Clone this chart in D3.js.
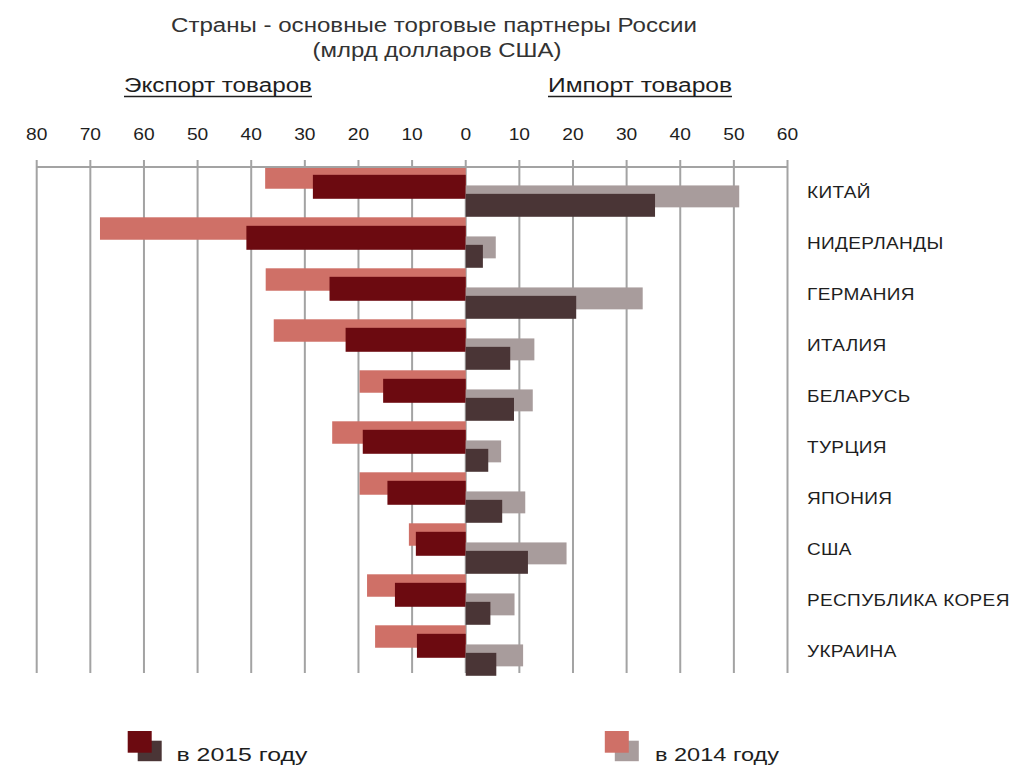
<!DOCTYPE html>
<html><head><meta charset="utf-8">
<script src="https://cdn.jsdelivr.net/npm/d3@7"></script>
<style>
html,body{margin:0;padding:0;background:#fff;}
text{font-family:"Liberation Sans",Arial,sans-serif;fill:#1e1e1e;}
</style></head>
<body>
<svg id="chart" width="1024" height="768"></svg>
<script>
// ---- data ----
const countries = ["КИТАЙ","НИДЕРЛАНДЫ","ГЕРМАНИЯ","ИТАЛИЯ","БЕЛАРУСЬ","ТУРЦИЯ","ЯПОНИЯ","США","РЕСПУБЛИКА КОРЕЯ","УКРАИНА"];
const export2014 = [37.4, 68.2, 37.3, 35.8, 19.8, 24.9, 19.8, 10.6, 18.4, 16.9];
const export2015 = [28.5, 40.9, 25.4, 22.4, 15.4, 19.2, 14.6, 9.3, 13.2, 9.1];
const import2014 = [51.0, 5.6, 33.0, 12.8, 12.5, 6.6, 11.1, 18.8, 9.1, 10.7];
const import2015 = [35.3, 3.2, 20.6, 8.3, 9.0, 4.2, 6.8, 11.6, 4.6, 5.7];
const tickValues = [-80,-70,-60,-50,-40,-30,-20,-10,0,10,20,30,40,50,60];
const titleLines = ["Страны - основные торговые партнеры России","(млрд долларов США)"];
const sideTitles = ["Экспорт товаров","Импорт товаров"];
const legendLabels = ["в  2015 году","в 2014 году"];

const colors = {exp14:"#cf7067", exp15:"#6c0a10", imp14:"#a89c9c", imp15:"#4a3536"};

const svg = d3.select("#chart");
const x = d3.scaleLinear().domain([-80,60]).range([36.7,787.5]);
const y = d3.scaleBand().domain(countries).range([166.3,676.3]).paddingInner(0).paddingOuter(0);
const bw = y.bandwidth();

// gridlines
const grid = svg.append("g");
grid.selectAll("line").data(tickValues).join("line")
  .attr("x1",d=>x(d)).attr("x2",d=>x(d))
  .attr("y1",160).attr("y2",673)
  .attr("stroke","#a3a3a3").attr("stroke-width",2);

// tick labels
svg.append("g").selectAll("text").data(tickValues).join("text")
  .attr("transform",d=>`translate(${x(d)},140) scale(1.2,1)`)
  .attr("text-anchor","middle").attr("font-size",16)
  .text(d=>Math.abs(d));

// bars
function bars(vals, sign, off, h, color){
  svg.append("g").selectAll("rect").data(countries).join("rect")
    .attr("x",(d,i)=> sign<0 ? x(-vals[i]) : x(0))
    .attr("width",(d,i)=> Math.abs(x(sign*vals[i]) - x(0)))
    .attr("y",d=>y(d)+off*bw)
    .attr("height",h*bw)
    .attr("fill",color);
}
bars(export2014,-1,0.0,0.44,colors.exp14);
bars(export2015,-1,0.167,0.47,colors.exp15);
bars(import2014,1,0.375,0.43,colors.imp14);
bars(import2015,1,0.54,0.45,colors.imp15);

// top axis line
svg.append("line").attr("x1",x(-80)).attr("x2",x(60)).attr("y1",167).attr("y2",167)
  .attr("stroke","#a3a3a3").attr("stroke-width",2);

// country labels
svg.append("g").selectAll("text").data(countries).join("text")
  .attr("transform",d=>`translate(807,${y(d)+bw/2+6}) scale(1.12,1)`)
  .attr("font-size",17).attr("letter-spacing",0.3)
  .text(d=>d);

// titles
svg.append("text").attr("x",434).attr("y",32).attr("text-anchor","middle")
  .attr("font-size",19.5).attr("textLength",526).attr("lengthAdjust","spacingAndGlyphs")
  .style("fill","#333").text(titleLines[0]);
svg.append("text").attr("x",437).attr("y",57).attr("text-anchor","middle")
  .attr("font-size",19.5).attr("textLength",249).attr("lengthAdjust","spacingAndGlyphs")
  .style("fill","#333").text(titleLines[1]);

const side = [{t:sideTitles[0],cx:218,w:188},{t:sideTitles[1],cx:640,w:184}];
side.forEach(s=>{
  svg.append("text").attr("x",s.cx).attr("y",92).attr("text-anchor","middle")
    .attr("font-size",19.5).attr("textLength",s.w).attr("lengthAdjust","spacingAndGlyphs")
    .text(s.t);
  svg.append("line").attr("x1",s.cx-s.w/2).attr("x2",s.cx+s.w/2).attr("y1",96.5).attr("y2",96.5)
    .attr("stroke","#1e1e1e").attr("stroke-width",1.6);
});

// legend
const legend = [
  {x:127.7, c1:colors.exp15, c2:colors.imp15, label:legendLabels[0], tx:176.5, tw:131},
  {x:604.8, c1:colors.exp14, c2:colors.imp14, label:legendLabels[1], tx:655, tw:124}
];
legend.forEach(l=>{
  svg.append("rect").attr("x",l.x+10).attr("y",740.7).attr("width",24).attr("height",20.5).attr("fill",l.c2);
  svg.append("rect").attr("x",l.x).attr("y",731).attr("width",24).attr("height",21.7).attr("fill",l.c1);
  svg.append("text").attr("x",l.tx).attr("y",761).attr("font-size",18)
    .attr("textLength",l.tw).attr("lengthAdjust","spacingAndGlyphs").text(l.label);
});
</script>
</body></html>
